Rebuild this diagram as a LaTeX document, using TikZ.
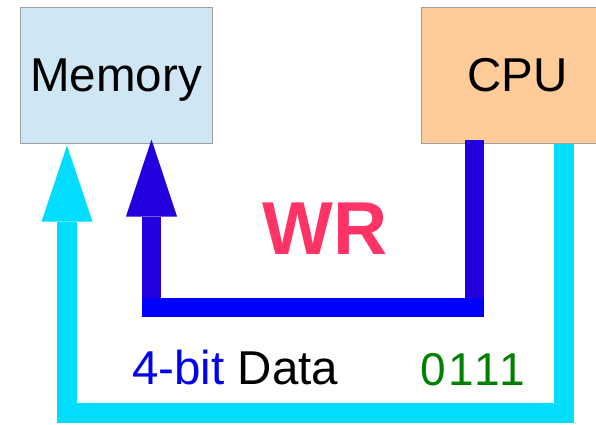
\documentclass[tikz,border=0pt]{standalone}
\usepackage{fontspec}
\setmainfont{Liberation Sans}
\usepackage{xcolor}
\usetikzlibrary{positioning,arrows.meta}

\definecolor{memfill}{HTML}{CFE6F4}
\definecolor{cpufill}{HTML}{FFCC99}
\definecolor{boxline}{HTML}{A0A0A0}
\definecolor{wrdark}{HTML}{2200DD}
\definecolor{wrblue}{HTML}{0000FF}
\definecolor{datacyan}{HTML}{00DDFF}
\definecolor{wrpink}{HTML}{FF3366}
\definecolor{bitgreen}{HTML}{008000}

\begin{document}
\begin{tikzpicture}[x=1pt,y=-1pt,font=\fontsize{47.5}{50}\selectfont]

  \useasboundingbox (0,0) rectangle (596,424);

  \tikzstyle{unit}=[rectangle,draw=boxline,line width=1pt,minimum width=192pt,minimum height=136pt,text height=33pt,text depth=0pt]
  \tikzstyle{wrline}=[draw=wrdark,line width=19pt]
  \tikzstyle{dataline}=[draw=datacyan,line width=20pt,miter limit=10]
  \tikzstyle{txt}=[inner sep=0pt,anchor=base west]

  % boxes
  \node[unit,fill=memfill] (mem) at (116,75) {Memory};
  \node[unit,fill=cpufill] (cpu) at (517.5,75) {CPU};

  % corner points
  \coordinate (wrR) at (474.5,307.5);
  \coordinate (wrL) at (151.5,307.5);
  \coordinate (dtR) at (563.5,413);
  \coordinate (dtL) at (67,413);

  % WR line
  \draw[wrline] ([yshift=4pt]cpu.south -| wrR) -- ([yshift=9.5pt]wrR);
  \fill[wrblue] ([xshift=-9.5pt,yshift=9.5pt]wrL) rectangle ([xshift=9.5pt,yshift=-9.5pt]wrR);
  \draw[wrline,-{Triangle[width=51pt,length=77pt,line width=0pt]}] ([yshift=9.5pt]wrL) -- ([yshift=4pt]mem.south -| wrL);

  % data line
  \draw[dataline,-{Triangle[width=51pt,length=76pt,line width=0pt]}] (cpu.south -| dtR) -- (dtR) -- (dtL) -- ([yshift=-2pt]mem.south -| dtL);

  % labels
  \node[anchor=base,inner sep=0pt,text=wrpink,font=\fontsize{75}{80}\selectfont\bfseries] (wr) at (325,254) {WR};
  \node[txt] (data) at (132,384) {\textcolor{blue!93!black}{4-bit} Data};
  \node[txt,text=bitgreen,font=\fontsize{46}{50}\selectfont\addfontfeature{LetterSpace=7}] (bits) at (420,385) {0111};

\end{tikzpicture}
\end{document}
